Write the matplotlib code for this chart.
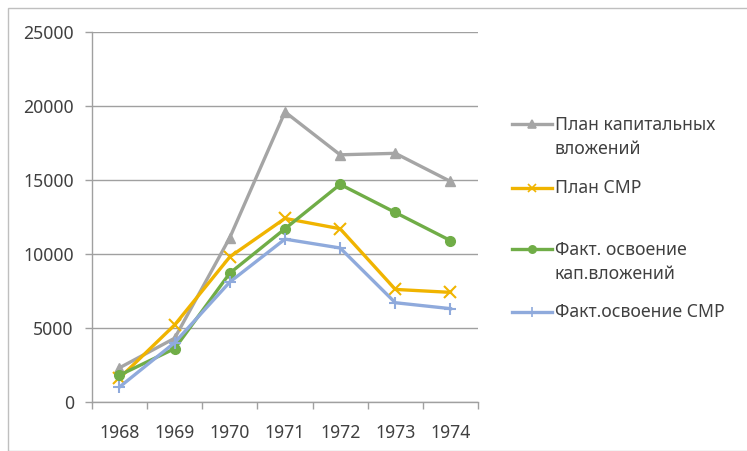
import numpy as np
import matplotlib.pyplot as plt
from matplotlib.lines import Line2D
from matplotlib.patches import Rectangle

plt.rcParams['font.family'] = ['Noto Sans', 'DejaVu Sans']

years = ['1968', '1969', '1970', '1971', '1972', '1973', '1974']
plan_kap = [2300, 4300, 11100, 19600, 16700, 16800, 14900]
plan_smr = [1600, 5200, 9800, 12400, 11700, 7600, 7400]
fakt_kap = [1800, 3600, 8700, 11700, 14700, 12800, 10900]
fakt_smr = [1000, 4000, 8100, 11000, 10400, 6700, 6300]

labels = ['План капитальных\nвложений', 'План СМР',
          'Факт. освоение\nкап.вложений', 'Факт.освоение СМР']
colors = ['#A5A5A5', '#F0B400', '#70AD47', '#8FAADC']
markers = ['^', 'x', 'o', '+']
msizes = [7, 8, 7, 9]
series = [plan_kap, plan_smr, fakt_kap, fakt_smr]

fig = plt.figure(figsize=(7.47, 4.51), dpi=100)
ax = fig.add_axes([0.123, 0.109, 0.517, 0.82])
x = np.arange(len(years))

for s, c, m, ms in zip(series, colors, markers, msizes):
    ax.plot(x, s, color=c, lw=2.4, marker=m, markersize=ms,
            markeredgewidth=1.5 if m in 'x+' else 1, zorder=3)

ax.set_xlim(-0.5, len(years) - 0.5)
ax.set_ylim(0, 25000)
ax.set_yticks(np.arange(0, 25001, 5000))
ax.set_xticks(x)
ax.set_xticklabels(years)
ax.set_xticks(np.arange(-0.5, len(years)), minor=True)
ax.tick_params(axis='x', which='major', length=0, pad=16, labelsize=12.7, colors='#404040')
ax.tick_params(axis='x', which='minor', length=5, color='#A0A0A0', width=1)
ax.tick_params(axis='y', length=5, color='#A0A0A0', width=1, pad=8,
               labelsize=12.7, labelcolor='#404040')
ax.grid(axis='y', color='#A0A0A0', lw=1)
ax.set_axisbelow(True)
for sp in ['top', 'right']:
    ax.spines[sp].set_visible(False)
for sp in ['left', 'bottom']:
    ax.spines[sp].set_color('#A0A0A0')
    ax.spines[sp].set_linewidth(1)

# легенда вручную, чтобы сохранить неровные отступы оригинала
leg_y = [124, 188, 249, 312]
for yy, lab, c, m, ms in zip(leg_y, labels, colors, markers, msizes):
    yl = 1 - yy / 451
    fig.add_artist(Line2D([512 / 747, 552 / 747], [yl, yl], color=c, lw=2.4,
                          transform=fig.transFigure))
    fig.add_artist(Line2D([532 / 747], [yl], color=c, marker=m,
                          markersize=ms * 0.75, markeredgewidth=1.2,
                          transform=fig.transFigure))
    two = '\n' in lab
    fig.text(555 / 747, yl + 8 / 451 if two else yl, lab,
             fontsize=12.7, color='#404040',
             va='top' if two else 'center', linespacing=1.45)

fig.add_artist(Rectangle((8 / 747, 0), 1, 1 - 8 / 451, transform=fig.transFigure,
                         fill=False, edgecolor='#BFBFBF', lw=1))

fig.savefig('out.png', dpi=100)
